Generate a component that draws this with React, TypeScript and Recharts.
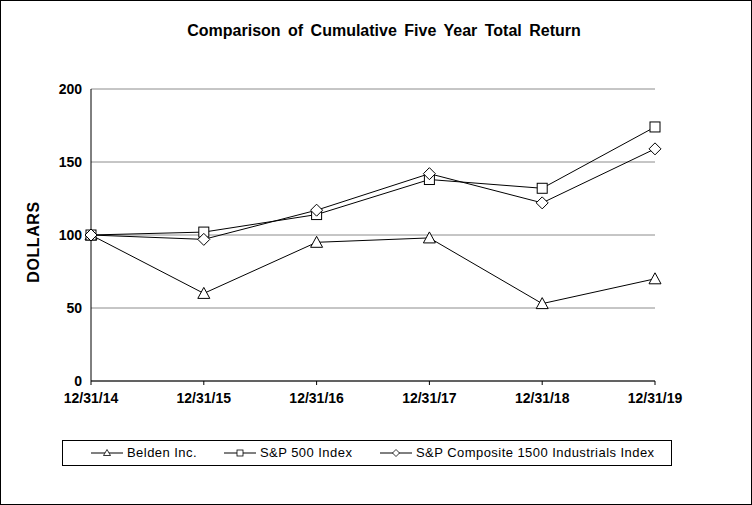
import React from 'react';
import { LineChart, Line, XAxis, YAxis, CartesianGrid } from 'recharts';

const dates = ['12/31/14', '12/31/15', '12/31/16', '12/31/17', '12/31/18', '12/31/19'];
const belden = [100, 60, 95, 98, 53, 70];
const sp500 = [100, 102, 114, 138, 132, 174];
const industrials = [100, 97, 117, 142, 122, 159];
const yTicks = [0, 50, 100, 150, 200];

const chartData = dates.map((d, i) => ({
  date: d,
  belden: belden[i],
  sp500: sp500[i],
  industrials: industrials[i],
}));

const FONT = 'Arial, "Liberation Sans", sans-serif';

const triangleDot = (p: any) => (
  <polygon
    key={`t-${p.index}`}
    points={`${p.cx},${p.cy - 6} ${p.cx - 6},${p.cy + 5} ${p.cx + 6},${p.cy + 5}`}
    fill="#fff"
    stroke="#000"
    strokeWidth={1}
  />
);

const squareDot = (p: any) => (
  <rect key={`s-${p.index}`} x={p.cx - 5} y={p.cy - 5} width={10} height={10} fill="#fff" stroke="#000" strokeWidth={1} />
);

const diamondDot = (p: any) => (
  <polygon
    key={`d-${p.index}`}
    points={`${p.cx},${p.cy - 6} ${p.cx + 6},${p.cy} ${p.cx},${p.cy + 6} ${p.cx - 6},${p.cy}`}
    fill="#fff"
    stroke="#000"
    strokeWidth={1}
  />
);

// small marker icons for the legend
const LegendIcon = ({ kind }: { kind: string }) => (
  <svg width={32} height={10} style={{ display: 'block' }}>
    <line x1={0} y1={5} x2={32} y2={5} stroke="#000" strokeWidth={1} />
    {kind === 'triangle' && <polygon points="16,1.5 12.5,7.5 19.5,7.5" fill="#fff" stroke="#000" strokeWidth={0.8} />}
    {kind === 'square' && <rect x={13} y={2} width={6} height={6} fill="#fff" stroke="#000" strokeWidth={0.8} />}
    {kind === 'diamond' && <polygon points="16,1.5 19.5,5 16,8.5 12.5,5" fill="#fff" stroke="#000" strokeWidth={0.8} />}
  </svg>
);

const legendItems = [
  { label: 'Belden Inc.', kind: 'triangle', left: 91 },
  { label: 'S&P 500 Index', kind: 'square', left: 224 },
  { label: 'S&P Composite 1500 Industrials Index', kind: 'diamond', left: 380 },
];

export default function App() {
  return (
    <div style={{ position: 'absolute', left: 0, top: 0, width: 752, height: 505, background: '#fff', fontFamily: FONT }}>
      <div
        style={{
          position: 'absolute',
          left: 8,
          top: 22,
          width: 752,
          textAlign: 'center',
          fontSize: 16,
          fontWeight: 'bold',
          wordSpacing: 3,
        }}
      >
        Comparison of Cumulative Five Year Total Return
      </div>
      <div
        style={{
          position: 'absolute',
          left: 34,
          top: 242,
          transform: 'translate(-50%, -50%) rotate(-90deg)',
          fontSize: 16,
          fontWeight: 'bold',
          letterSpacing: 0.6,
          whiteSpace: 'nowrap',
        }}
      >
        DOLLARS
      </div>
      <LineChart
        width={752}
        height={505}
        data={chartData}
        margin={{ top: 89, right: 97, bottom: 94, left: 0 }}
        style={{ position: 'absolute', left: 0, top: 0 }}
      >
        <CartesianGrid vertical={false} stroke="#8c8c8c" strokeWidth={1} />
        <XAxis
          dataKey="date"
          height={30}
          axisLine={{ stroke: '#000' }}
          tickLine={{ stroke: '#000' }}
          tickSize={4}
          tickMargin={8}
          interval={0}
          tick={{ fill: '#000', fontSize: 14, fontWeight: 'bold', fontFamily: FONT }}
        />
        <XAxis xAxisId="top" orientation="top" dataKey="date" height={0} tick={false} tickLine={false} axisLine={{ stroke: '#000' }} />
        <YAxis
          domain={[0, 200]}
          ticks={yTicks}
          width={91}
          axisLine={{ stroke: '#000' }}
          tickLine={false}
          tickMargin={3}
          tick={{ fill: '#000', fontSize: 14, fontWeight: 'bold', fontFamily: FONT }}
        />
        <YAxis yAxisId="right" orientation="right" domain={[0, 200]} width={0} tick={false} tickLine={false} axisLine={{ stroke: '#000' }} />
        <Line dataKey="belden" stroke="#000" strokeWidth={1} dot={triangleDot} isAnimationActive={false} />
        <Line dataKey="sp500" stroke="#000" strokeWidth={1} dot={squareDot} isAnimationActive={false} />
        <Line dataKey="industrials" stroke="#000" strokeWidth={1} dot={diamondDot} isAnimationActive={false} />
      </LineChart>
      <div
        style={{
          position: 'absolute',
          left: 62,
          top: 440,
          width: 610,
          height: 26,
          border: '1px solid #000',
          boxSizing: 'border-box',
        }}
      />
      {legendItems.map((it) => (
        <div
          key={it.label}
          style={{
            position: 'absolute',
            left: it.left,
            top: 445,
            display: 'flex',
            alignItems: 'center',
            fontSize: 13,
            letterSpacing: 0.45,
            whiteSpace: 'nowrap',
          }}
        >
          <LegendIcon kind={it.kind} />
          <span style={{ marginLeft: 4 }}>{it.label}</span>
        </div>
      ))}
      <div
        style={{
          position: 'absolute',
          left: 0,
          top: 0,
          width: 752,
          height: 505,
          border: '1px solid #000',
          boxSizing: 'border-box',
          pointerEvents: 'none',
        }}
      />
    </div>
  );
}
